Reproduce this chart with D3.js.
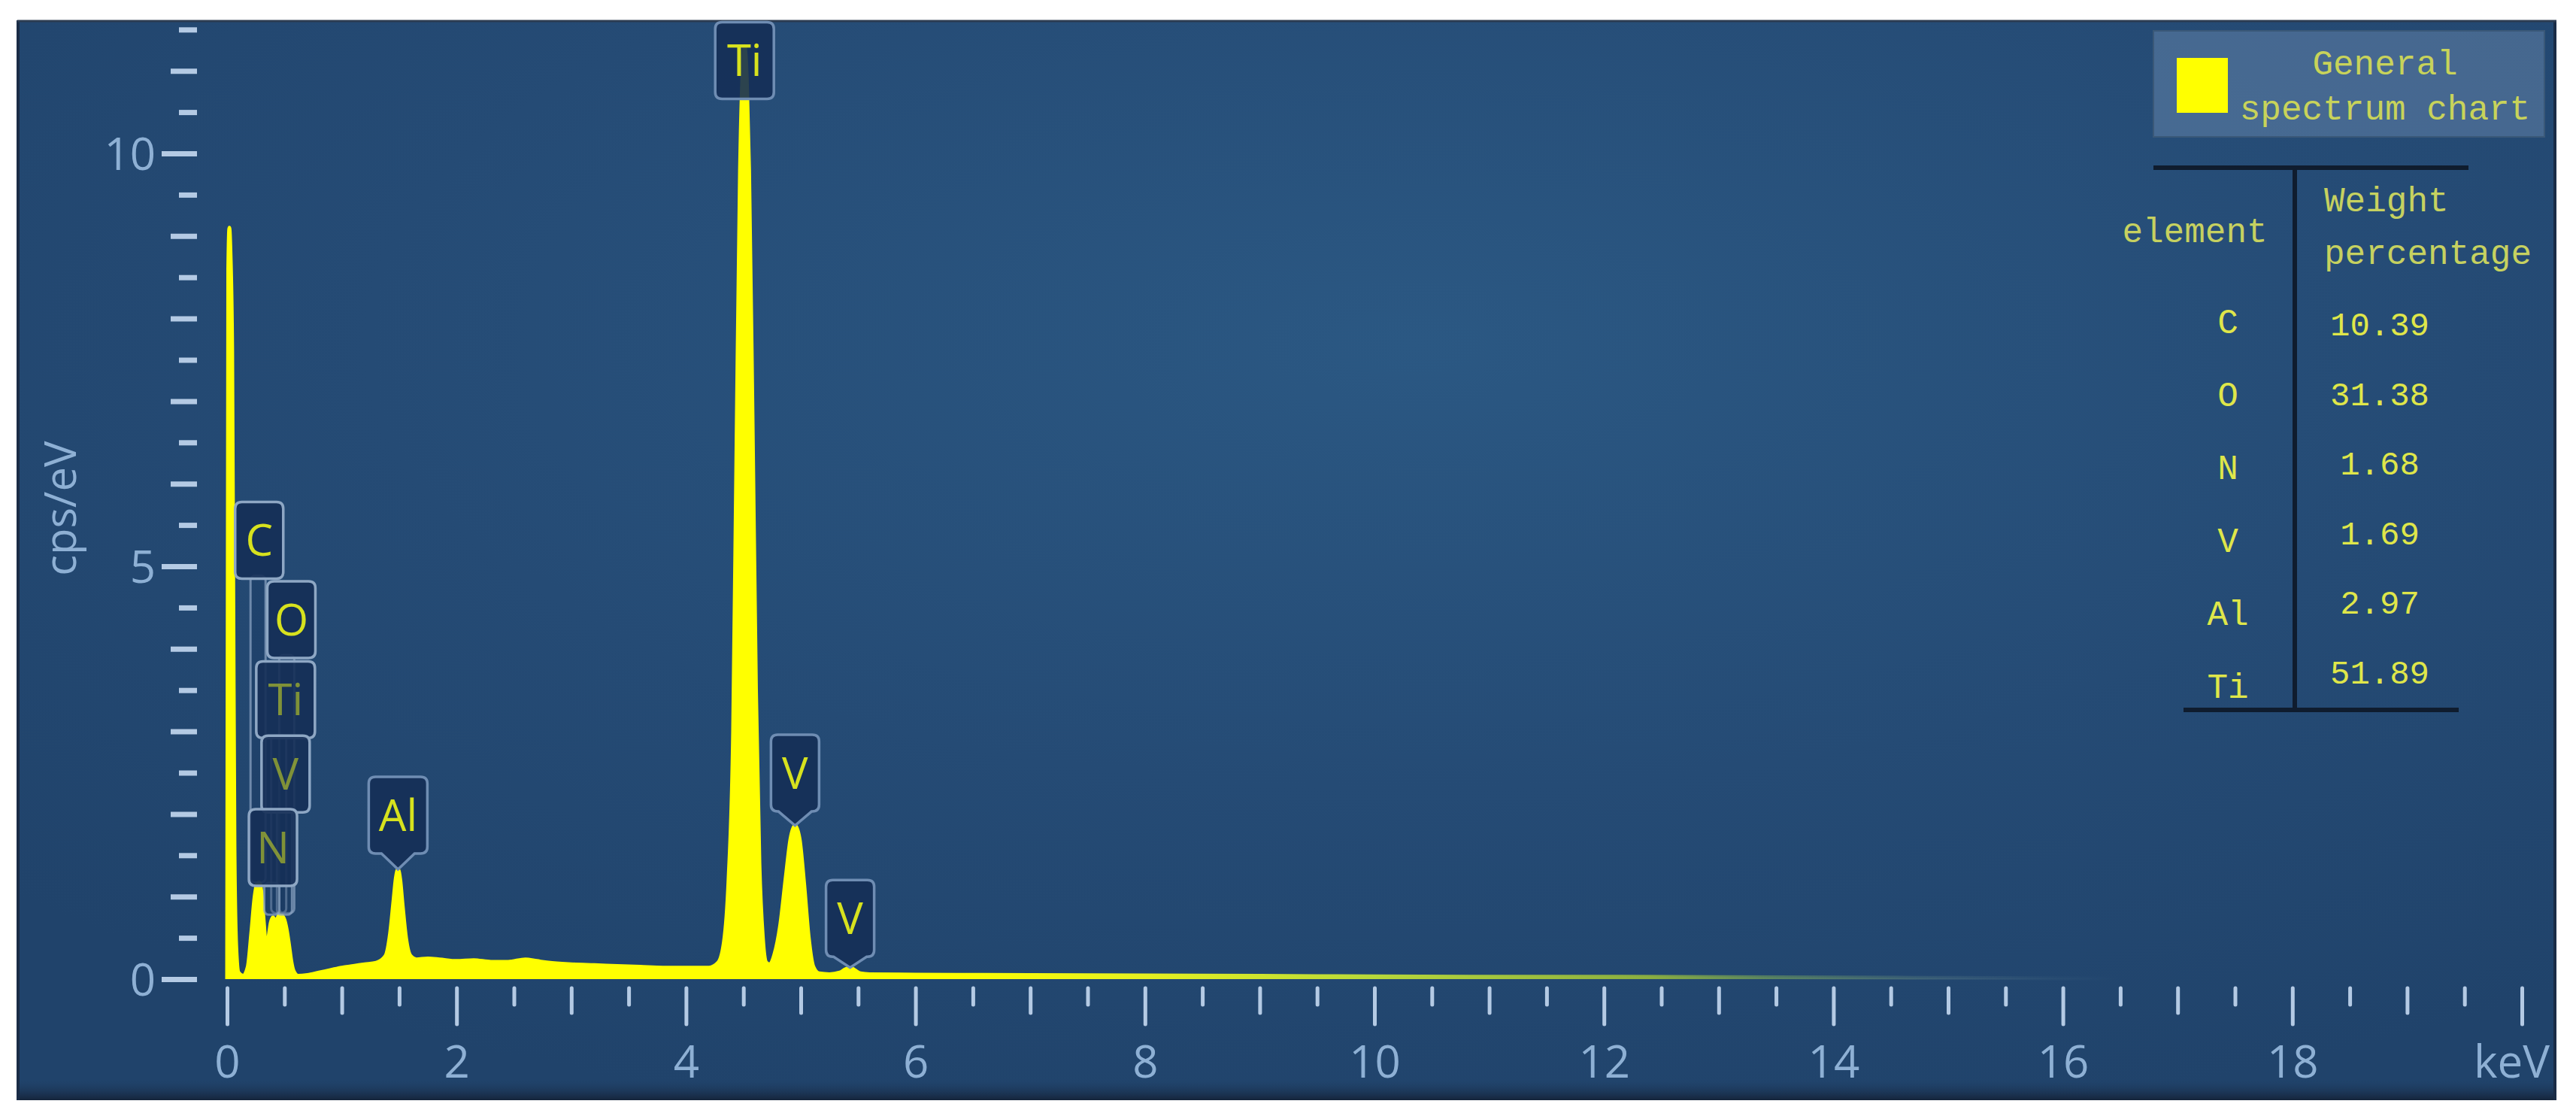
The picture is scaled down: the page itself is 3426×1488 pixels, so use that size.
<!DOCTYPE html>
<html><head><meta charset="utf-8">
<script src="https://cdn.jsdelivr.net/npm/d3@7"></script>
<style>html,body{margin:0;padding:0;background:#fff;}svg{display:block}</style>
</head><body>
<svg id="chart" width="3426" height="1488"></svg>
<script>
// ---- data ----
const spectrumKeV = [0.00,0.01,0.02,0.03,0.045,0.055,0.065,0.08,0.10,0.14,0.18,0.21,0.24,0.26,0.28,0.30,0.32,0.34,0.36,0.38,0.40,0.42,0.44,0.46,0.48,0.50,0.52,0.54,0.56,0.58,0.62,0.70,0.80,0.90,1.00,1.10,1.20,1.30,1.38,1.42,1.45,1.47,1.49,1.51,1.53,1.56,1.60,1.65,1.75,1.85,2.0,2.15,2.3,2.45,2.6,2.7,2.8,3.0,3.2,3.4,3.6,3.8,4.0,4.2,4.28,4.33,4.37,4.41,4.44,4.47,4.49,4.51,4.53,4.55,4.58,4.61,4.64,4.67,4.70,4.73,4.77,4.82,4.87,4.91,4.95,4.99,5.03,5.07,5.11,5.16,5.25,5.34,5.39,5.43,5.47,5.52,5.6,6.0,7.0,8.0,9.0,10.0,11.0,12.0,13.0,14.0,15.0,16.0,17.0,18.0,20.0];
const spectrumCps = [0,8.6,9.1,8.8,7.6,4.5,1.6,0.4,0.08,0.04,0.15,0.55,1.0,1.15,1.17,1.05,0.7,0.4,0.5,0.68,0.75,0.7,0.74,0.8,0.77,0.72,0.6,0.42,0.22,0.1,0.04,0.05,0.08,0.11,0.14,0.16,0.18,0.2,0.28,0.55,0.95,1.22,1.33,1.2,0.9,0.5,0.28,0.24,0.25,0.24,0.22,0.23,0.21,0.21,0.24,0.22,0.2,0.18,0.17,0.16,0.15,0.14,0.14,0.14,0.2,0.45,1.2,3.0,6.5,9.8,10.9,11.3,10.9,9.8,6.8,3.5,1.4,0.5,0.2,0.18,0.3,0.65,1.25,1.7,1.86,1.7,1.15,0.5,0.15,0.07,0.06,0.08,0.12,0.14,0.11,0.07,0.06,0.055,0.05,0.045,0.04,0.035,0.03,0.03,0.025,0.02,0.015,0.01,0.005,0,0];

const xLabelValues = [0,2,4,6,8,10,12,14,16,18,20];
const xTickLabels = ["0","2","4","6","8","10","12","14","16","18","keV"];
const yLabelValues = [0,5,10];
const yTickLabels = ["0","5","10"];
const yAxisTitle = "cps/eV";

const peakLabels      = ["Ti","V","V","Al","C","O","Ti","V","N"];
const peakBoxKeV      = [4.51,4.95,5.43,1.49,0.28,0.56,0.51,0.51,0.40];
const peakBoxBottom   = [10.66,2.03,0.27,1.52,4.85,3.89,2.92,2.02,1.13];
const peakTipKeV      = [4.51,4.95,5.43,1.49,0.27,0.52,0.45,0.50,0.39];
const peakTipCps      = [10.66,1.86,0.14,1.33,1.17,0.80,0.80,0.78,0.78];
const peakDim         = [false,false,false,false,false,false,true,true,true];

const legendLines = ["General","spectrum chart"];
const tableHeadElement = "element";
const tableHeadWeight = ["Weight","percentage"];
const tableElements = ["C","O","N","V","Al","Ti"];
const tableWeights = ["10.39","31.38","1.68","1.69","2.97","51.89"];

// ---- drawing ----
const svg = d3.select("#chart");
const defs = svg.append("defs");
const x = d3.scaleLinear().domain([0,20]).range([302,3354]);
const y = d3.scaleLinear().domain([0,10]).range([1302,204]);

const tickColor = "#b4cae4", labelColor = "#8eb0d4";
const sans = "'Open Sans', 'Noto Sans', sans-serif";
const mono = "'Liberation Mono', 'DejaVu Sans Mono', monospace";

// panel
const pg = defs.append("radialGradient").attr("id","pg").attr("cx","0.55").attr("cy","0.3").attr("r","0.75");
pg.append("stop").attr("offset","0").attr("stop-color","#2b5883");
pg.append("stop").attr("offset","0.55").attr("stop-color","#254b75");
pg.append("stop").attr("offset","1").attr("stop-color","#20436b");
svg.append("rect").attr("x",23).attr("y",27).attr("width",3377).attr("height",1436).attr("fill","url(#pg)");
const sh = defs.append("linearGradient").attr("id","sh").attr("x1",0).attr("y1",0).attr("x2",0).attr("y2",1);
sh.append("stop").attr("offset","0").attr("stop-color","#1e3c60").attr("stop-opacity",0);
sh.append("stop").attr("offset","1").attr("stop-color","#15243a").attr("stop-opacity",1);
svg.append("rect").attr("x",23).attr("y",1436).attr("width",3377).attr("height",27).attr("fill","url(#sh)");
svg.append("line").attr("x1",24).attr("x2",24).attr("y1",27).attr("y2",1463).attr("stroke","#1a2c46").attr("stroke-width",4);
svg.append("line").attr("x1",3398).attr("x2",3398).attr("y1",27).attr("y2",1463).attr("stroke","#1a2c46").attr("stroke-width",4);
svg.append("line").attr("x1",23).attr("x2",3400).attr("y1",28).attr("y2",28).attr("stroke","#2c3c52").attr("stroke-width",3);

// spectrum gradient along energy
const sg = defs.append("linearGradient").attr("id","sg").attr("gradientUnits","userSpaceOnUse")
  .attr("x1",x(0)).attr("x2",x(20)).attr("y1",0).attr("y2",0);
[[0,"#ffff00",1],[6.3,"#ffff00",1],[8,"#e6f020",1],[10,"#b8d83a",1],[12.4,"#8cb040",0.95],[13.5,"#5f8a60",0.7],[15,"#4d7080",0.35],[16.5,"#3d6080",0]]
  .forEach(s=>sg.append("stop").attr("offset",(x(s[0])-x(0))/(x(20)-x(0))).attr("stop-color",s[1]).attr("stop-opacity",s[2]));

const pts = spectrumKeV.map((e,i)=>({e, c: spectrumCps[i]}));
const area = d3.area().x(d=>x(d.e)).y0(y(0)).y1(d=>y(d.c)).curve(d3.curveMonotoneX);
const line = d3.line().x(d=>x(d.e)).y(d=>y(d.c)).curve(d3.curveMonotoneX);
svg.append("path").datum(pts).attr("d",area).attr("fill","url(#sg)");
svg.append("path").datum(pts).attr("d",line).attr("fill","none").attr("stroke","url(#sg)").attr("stroke-width",5).attr("stroke-linejoin","round");

// x axis
const gx = svg.append("g").attr("transform",`translate(0,${y(0)})`)
  .call(d3.axisBottom(x).tickValues(d3.range(0,20.001,0.5)).tickSize(0).tickFormat(""));
gx.select(".domain").remove();
gx.selectAll(".tick line").attr("y1",12)
  .attr("y2",d=> 12 + (d%2===0 ? 48 : (d%1===0 ? 33 : 22)))
  .attr("stroke",tickColor).attr("stroke-width",5).attr("stroke-linecap","round");
const gxl = svg.append("g").attr("transform",`translate(0,${y(0)})`)
  .call(d3.axisBottom(x).tickValues(xLabelValues).tickSize(0).tickFormat((d,i)=>xTickLabels[i]));
gxl.select(".domain").remove();
gxl.selectAll(".tick text").attr("y",131).attr("dy",0)
  .attr("dx",(d,i)=> i===xLabelValues.length-1 ? -14 : 0)
  .attr("font-family",sans).attr("font-size",60).attr("fill",labelColor);

// y axis
const gy = svg.append("g").attr("transform","translate(262,0)")
  .call(d3.axisLeft(y).tickValues(d3.range(0,11.501,0.5)).tickSize(0).tickFormat(""));
gy.select(".domain").remove();
gy.selectAll(".tick line").attr("x1",0)
  .attr("x2",d=> -(d%5===0 ? 47 : (d%1===0 ? 35 : 24)))
  .attr("stroke",tickColor).attr("stroke-width",7);
const gyl = svg.append("g").attr("transform","translate(262,0)")
  .call(d3.axisLeft(y).tickValues(yLabelValues).tickSize(0).tickFormat((d,i)=>yTickLabels[i]));
gyl.select(".domain").remove();
gyl.selectAll(".tick text").attr("x",-55).attr("dy","0.36em")
  .attr("font-family",sans).attr("font-size",60).attr("fill",labelColor);
svg.append("text").attr("transform",`translate(80,${y(5.7)}) rotate(-90)`)
  .attr("text-anchor","middle").attr("dy","0.36em")
  .attr("font-family",sans).attr("font-size",58).attr("fill",labelColor).text(yAxisTitle);

// peak label callouts
const boxH = 102, r = 9;
function boxPath(cx, b, tip, w, notch){
  const l = cx - w/2, rt = cx + w/2, t = b - boxH;
  let p = `M${l+r},${t} H${rt-r} Q${rt},${t} ${rt},${t+r} V${b-r} Q${rt},${b} ${rt-r},${b} `;
  if (notch) p += `H${cx+22} L${cx},${tip} L${cx-22},${b} `;
  p += `H${l+r} Q${l},${b} ${l},${b-r} V${t+r} Q${l},${t} ${l+r},${t} Z`;
  return p;
}
const gl = svg.append("g");
peakLabels.forEach((lab,i)=>{
  const cx = x(peakBoxKeV[i]), b = y(peakBoxBottom[i]), tip = y(peakTipCps[i]);
  const w = lab.length > 1 ? 78 : 64;
  const gap = tip - b;
  const g = gl.append("g");
  if (gap > 30) {
    const sx = x(peakTipKeV[i]);
    g.append("rect").attr("x",sx-10).attr("y",b-4).attr("width",20).attr("height",gap+4).attr("rx",6)
      .attr("fill","#1a3a62").attr("fill-opacity",0.35).attr("stroke","#8ea7c4").attr("stroke-opacity",0.7).attr("stroke-width",3);
  }
  g.append("path").attr("d",boxPath(cx,b,tip,w,gap>2 && gap<=30))
    .attr("fill","#152f57").attr("fill-opacity",0.9)
    .attr("stroke", gap>30 ? "#8ea7c4" : "#6f8db3").attr("stroke-width",3.5);
  g.append("text").attr("x",cx).attr("y",b-boxH/2).attr("dy","0.36em").attr("text-anchor","middle")
    .attr("font-family",sans).attr("font-size",58).attr("fill","#d7e21e")
    .attr("fill-opacity",peakDim[i]?0.55:1).text(lab);
});

// legend
svg.append("rect").attr("x",2864).attr("y",41).attr("width",520).attr("height",141)
  .attr("fill","#7d9cc0").attr("fill-opacity",0.38).attr("stroke","#3a5878").attr("stroke-width",2);
svg.append("rect").attr("x",2895).attr("y",77).attr("width",68).attr("height",73).attr("fill","#ffff00");
legendLines.forEach((t,i)=>{
  svg.append("text").attr("x",3172).attr("y",[99,159][i]).attr("text-anchor","middle")
    .attr("font-family",mono).attr("font-size",46).attr("fill","#c8d35a").text(t);
});

// table
const tcol = "#0f1c2e";
svg.append("line").attr("x1",2864).attr("x2",3283).attr("y1",223).attr("y2",223).attr("stroke",tcol).attr("stroke-width",6);
svg.append("line").attr("x1",3052).attr("x2",3052).attr("y1",223).attr("y2",944).attr("stroke",tcol).attr("stroke-width",6);
svg.append("line").attr("x1",2904).attr("x2",3270).attr("y1",944).attr("y2",944).attr("stroke",tcol).attr("stroke-width",6);
svg.append("text").attr("x",2919).attr("y",322).attr("text-anchor","middle")
  .attr("font-family",mono).attr("font-size",46).attr("fill","#c6d160").text(tableHeadElement);
tableHeadWeight.forEach((t,i)=>{
  svg.append("text").attr("x",3091).attr("y",[281,351][i])
    .attr("font-family",mono).attr("font-size",46).attr("fill","#c6d160").text(t);
});
const rowEl = d3.scalePoint().domain(tableElements).range([443,928]);
const rowVal = d3.scalePoint().domain(tableElements).range([446,909]);
tableElements.forEach((el,i)=>{
  svg.append("text").attr("x",2963).attr("y",rowEl(el)).attr("text-anchor","middle")
    .attr("font-family",mono).attr("font-size",46).attr("fill","#dfe64a").text(el);
  svg.append("text").attr("x",3165).attr("y",rowVal(el)).attr("text-anchor","middle")
    .attr("font-family",mono).attr("font-size",44).attr("fill","#dfe64a").text(tableWeights[i]);
});
</script>
</body></html>
